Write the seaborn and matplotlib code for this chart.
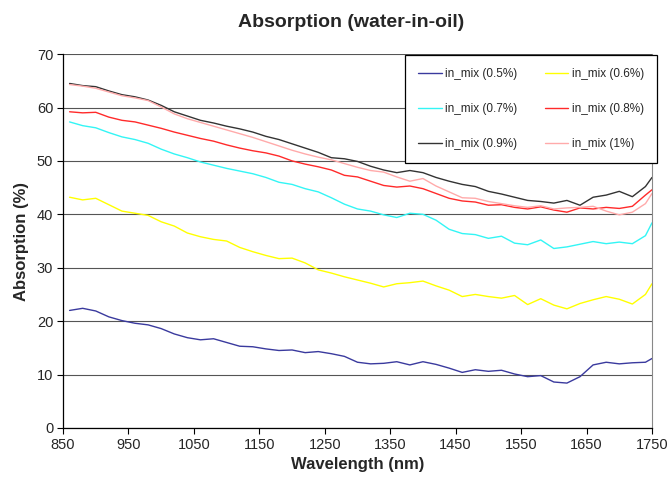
import seaborn as sns
import matplotlib.pyplot as plt
import matplotlib.lines as mlines
import pandas as pd
import numpy as np

# wavelengths (nm)
wavelength = [860, 880, 900, 920, 940, 960, 980, 1000, 1020, 1040, 1060, 1080, 1100, 1120, 1140,
              1160, 1180, 1200, 1220, 1240, 1260, 1280, 1300, 1320, 1340, 1360, 1380, 1400, 1420,
              1440, 1460, 1480, 1500, 1520, 1540, 1560, 1580, 1600, 1620, 1640, 1660, 1680, 1700,
              1720, 1740, 1750]

mix_05 = [22.0, 22.4, 21.9, 20.8, 20.1, 19.6, 19.3, 18.6, 17.6, 16.9, 16.5, 16.7, 16.0, 15.3, 15.2,
          14.8, 14.5, 14.6, 14.1, 14.3, 13.9, 13.4, 12.3, 12.0, 12.1, 12.4, 11.8, 12.4, 11.9,
          11.2, 10.4, 10.9, 10.6, 10.8, 10.1, 9.6, 9.8, 8.6, 8.4, 9.6, 11.8, 12.3, 12.0,
          12.2, 12.3, 13.0]
mix_06 = [43.2, 42.7, 43.0, 41.8, 40.6, 40.2, 39.8, 38.6, 37.8, 36.5, 35.8, 35.3, 35.0, 33.8, 33.0,
          32.3, 31.7, 31.8, 30.9, 29.6, 29.0, 28.3, 27.7, 27.1, 26.4, 27.0, 27.2, 27.5, 26.6,
          25.8, 24.6, 25.0, 24.6, 24.3, 24.8, 23.1, 24.2, 23.0, 22.3, 23.3, 24.0, 24.6, 24.1,
          23.2, 25.0, 27.0]
mix_07 = [57.3, 56.6, 56.2, 55.3, 54.5, 54.0, 53.3, 52.2, 51.3, 50.6, 49.8, 49.2, 48.6, 48.1, 47.6,
          46.9, 46.0, 45.6, 44.8, 44.2, 43.1, 41.9, 41.0, 40.6, 39.9, 39.4, 40.2, 40.0, 38.9,
          37.2, 36.4, 36.2, 35.5, 35.9, 34.6, 34.3, 35.2, 33.6, 33.9, 34.4, 34.9, 34.5, 34.8,
          34.5, 36.0, 38.4]
mix_08 = [59.2, 59.0, 59.1, 58.2, 57.6, 57.3, 56.7, 56.1, 55.4, 54.8, 54.2, 53.7, 53.0, 52.4, 51.9,
          51.5, 50.9, 50.0, 49.4, 48.9, 48.3, 47.3, 47.0, 46.2, 45.4, 45.1, 45.3, 44.8, 43.9,
          43.0, 42.5, 42.3, 41.7, 41.8, 41.3, 41.0, 41.4, 40.8, 40.4, 41.2, 41.0, 41.3, 41.1,
          41.5, 43.6, 44.6]
mix_09 = [64.5, 64.1, 63.9, 63.1, 62.4, 62.0, 61.4, 60.4, 59.2, 58.4, 57.6, 57.1, 56.5, 56.0, 55.4,
          54.6, 54.0, 53.2, 52.4, 51.6, 50.6, 50.4, 49.9, 49.0, 48.3, 47.8, 48.2, 47.8, 46.9,
          46.2, 45.6, 45.2, 44.3, 43.8, 43.2, 42.6, 42.4, 42.1, 42.6, 41.7, 43.2, 43.6, 44.3,
          43.3, 45.2, 46.9]
mix_10 = [64.3, 64.0, 63.6, 62.9, 62.2, 61.8, 61.3, 60.1, 58.8, 57.9, 57.2, 56.5, 55.8, 55.1, 54.4,
          53.6, 52.8, 52.0, 51.3, 50.7, 50.2, 49.5, 48.8, 48.2, 47.9, 47.0, 46.2, 46.7, 45.3,
          44.2, 43.1, 43.0, 42.4, 42.0, 41.6, 41.3, 41.6, 41.0, 41.2, 41.3, 41.5, 40.6, 39.9,
          40.4, 42.0, 43.9]

labels = ['in_mix (0.5%)', 'in_mix (0.6%)', 'in_mix (0.7%)',
          'in_mix (0.8%)', 'in_mix (0.9%)', 'in_mix (1%)']
colors = ['#3a3a9e', '#ffff00', '#33f5f5', '#ff2a2a', '#333333', '#ffaaaa']

series = [mix_05, mix_06, mix_07, mix_08, mix_09, mix_10]
frames = []
for lab, vals in zip(labels, series):
    frames.append(pd.DataFrame({'Wavelength': wavelength, 'Absorption': vals, 'Mix': lab}))
df = pd.concat(frames, ignore_index=True)

sns.set_style('white')
plt.rcParams['font.family'] = ['Liberation Sans', 'DejaVu Sans']

fig = plt.figure(figsize=(6.67, 4.83), dpi=100)
ax = fig.add_axes([0.0945, 0.114, 0.883, 0.774])

sns.lineplot(data=df, x='Wavelength', y='Absorption', hue='Mix', hue_order=labels,
             palette=dict(zip(labels, colors)), linewidth=1.0, ax=ax, legend=False)

ax.set_xlim(850, 1750)
ax.set_ylim(0, 70)
ax.set_xticks(np.arange(850, 1751, 100))
ax.set_yticks(np.arange(0, 71, 10))
ax.tick_params(axis='both', direction='out', length=4, width=0.8, color='black',
               labelsize=10.5, pad=3, bottom=True, left=True)
ax.yaxis.grid(True, color='#555555', linewidth=0.8)
ax.set_axisbelow(True)
for s in ['left', 'bottom']:
    ax.spines[s].set_color('black')
    ax.spines[s].set_linewidth(0.9)
ax.spines['top'].set_visible(False)
ax.spines['right'].set_color('#888888')

ax.set_xlabel('Wavelength (nm)', fontsize=12, fontweight='bold', labelpad=4)
ax.set_ylabel('Absorption (%)', fontsize=12, fontweight='bold', labelpad=6)
fig.suptitle('Absorption (water-in-oil)', fontsize=14, fontweight='bold', x=0.527, y=0.972)

handles = [mlines.Line2D([], [], color=c, linewidth=1.0) for c in colors]
order = [0, 2, 4, 1, 3, 5]
leg = fig.legend([handles[i] for i in order], [labels[i] for i in order],
                 ncol=2, loc='upper right', bbox_to_anchor=(0.985, 0.886),
                 fontsize=8.5, frameon=True, fancybox=False, framealpha=1,
                 edgecolor='black', labelspacing=1.95, handlelength=2.0,
                 handletextpad=0.3, columnspacing=2.3, borderpad=1.1, borderaxespad=0)
leg.get_frame().set_linewidth(0.9)

fig.savefig('out.png', dpi=100)
